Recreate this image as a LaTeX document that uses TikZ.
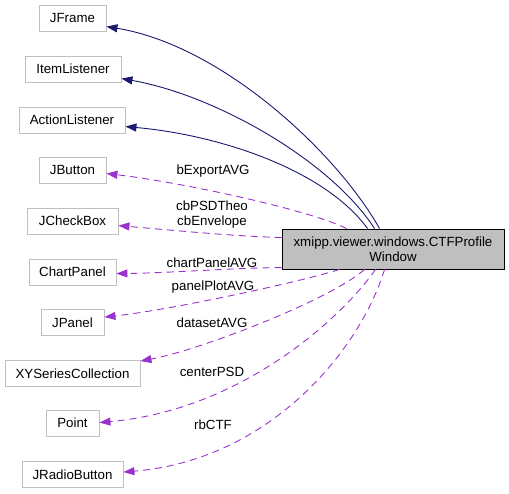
\documentclass[tikz,border=0pt]{standalone}
\usepackage{fontspec}
\setmainfont{Liberation Sans}
\usetikzlibrary{arrows.meta,calc}
\definecolor{navy}{HTML}{191970}
\definecolor{purp}{HTML}{9A32CD}
\definecolor{boxgray}{HTML}{BFBFBF}
\tikzset{
  cls/.style={draw=boxgray, line width=0.9pt, minimum height=26pt, inner sep=0pt, font=\fontsize{13.3}{15}\selectfont},
  mainbox/.style={draw=black, fill=boxgray, line width=0.9pt, minimum height=40pt, minimum width=222pt, inner sep=0pt, align=center, font=\fontsize{13.3}{15}\selectfont},
  inh/.style={draw=navy, line width=0.9pt, -{Triangle[length=11pt,width=8pt]}},
  use/.style={draw=purp, line width=0.9pt, dash pattern=on 7pt off 5pt, -{Triangle[length=11pt,width=8pt]}},
  lbl/.style={font=\fontsize{13.3}{15}\selectfont, inner sep=0pt, align=center}
}
\begin{document}
\begin{tikzpicture}[x=1pt,y=-1pt]
\useasboundingbox (0,0) rectangle (509,493);
\node[cls, minimum width=67pt] (jframe) at (72.5,18) {JFrame};
\node[cls, minimum width=96pt] (item) at (73,69) {ItemListener};
\node[cls, minimum width=106pt] (action) at (72,120) {ActionListener};
\node[cls, minimum width=67pt] (jbutton) at (72.5,170) {JButton};
\node[cls, minimum width=91pt] (jcheck) at (72.5,221) {JCheckBox};
\node[cls, minimum width=87pt] (chart) at (72.5,272) {ChartPanel};
\node[cls, minimum width=63pt] (jpanel) at (72.5,322.5) {JPanel};
\node[cls, minimum width=135pt] (xy) at (72.5,373.5) {XYSeriesCollection};
\node[cls, minimum width=53pt] (point) at (72.5,423) {Point};
\node[cls, minimum width=101pt] (radio) at (72.5,474.5) {JRadioButton};
\node[mainbox] (main) at (393,249) {xmipp.viewer.windows.CTFProfile\\Window};

% inheritance
\draw[inh] ($(main.north west)+(98,0)$) .. controls (335,150) and (220,45) .. ($(jframe.north east)+(0,22)$);
\draw[inh] ($(main.north west)+(93,0)$) .. controls (330,160) and (215,95) .. ($(item.north east)+(0,23)$);
\draw[inh] ($(main.north west)+(86,0)$) .. controls (325,170) and (220,135) .. ($(action.north east)+(0,20)$);

% usage
\draw[use] ($(main.north west)+(65,0)$) .. controls (310,210) and (180,182) .. ($(jbutton.north east)+(0,17)$);
\draw[use] ($(main.north west)+(0,9)$) .. controls (230,236) and (170,230) .. ($(jcheck.north east)+(0,18)$);
\draw[use] ($(main.north west)+(0,39)$) .. controls (230,268) and (170,273) .. ($(chart.north east)+(0,15)$);
\draw[use] ($(main.south west)+(58,0)$) .. controls (300,282) and (170,310) .. ($(jpanel.north east)+(0,8)$);
\draw[use] ($(main.south west)+(83,0)$) .. controls (330,300) and (200,350) .. ($(xy.north east)+(0,1)$);
\draw[use] ($(main.south west)+(94,0)$) .. controls (340,320) and (240,410) .. ($(point.north east)+(0,13)$);
\draw[use] ($(main.south west)+(103,0)$) .. controls (360,350) and (270,460) .. ($(radio.north east)+(0,11)$);

\node[lbl] (l1) at (213,171) {bExportAVG};
\node[lbl] (l2) at (212,214.5) {cbPSDTheo\\cbEnvelope};
\node[lbl] (l3) at (212,263) {chartPanelAVG};
\node[lbl] (l4) at (213,287) {panelPlotAVG};
\node[lbl] (l5) at (212,323) {datasetAVG};
\node[lbl] (l6) at (212,372) {centerPSD};
\node[lbl] (l7) at (213,425) {rbCTF};
\end{tikzpicture}
\end{document}
